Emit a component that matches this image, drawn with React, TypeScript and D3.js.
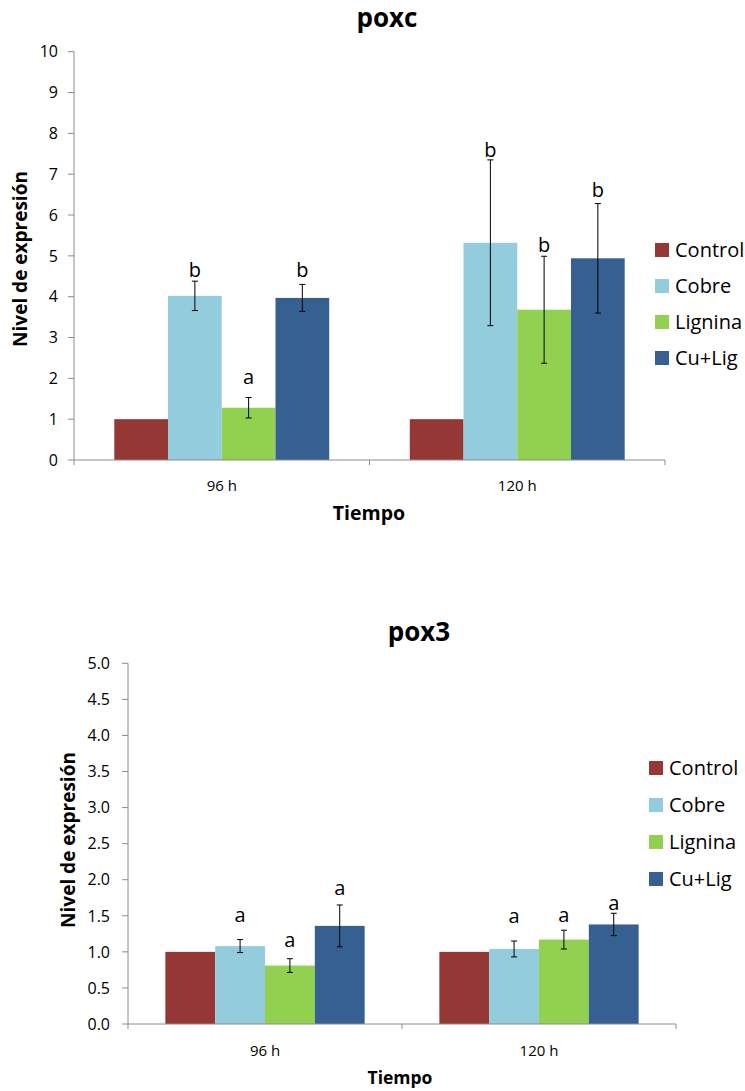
import * as d3 from 'd3'

const categories = ['96 h', '120 h']
const series = ['Control', 'Cobre', 'Lignina', 'Cu+Lig']
const colors = ['#953735', '#93CDDD', '#92D050', '#376092']

// poxc: values per series, [96 h, 120 h]
const poxcValues = [[1, 1], [4.02, 5.32], [1.28, 3.68], [3.97, 4.94]]
const poxcErrors = [[0, 0], [0.36, 2.03], [0.25, 1.31], [0.33, 1.34]]
const poxcLetters = [['', ''], ['b', 'b'], ['a', 'b'], ['b', 'b']]
const poxcLetterAt = [[0, 0], [4.48, 7.43], [1.86, 5.09], [4.48, 6.44]]

// pox3
const pox3Values = [[1, 1], [1.08, 1.04], [0.81, 1.17], [1.36, 1.38]]
const pox3Errors = [[0, 0], [0.09, 0.11], [0.095, 0.13], [0.29, 0.155]]
const pox3Letters = [['', ''], ['a', 'a'], ['a', 'a'], ['a', 'a']]
const pox3LetterAt = [[0, 0], [1.42, 1.4], [1.07, 1.42], [1.79, 1.58]]

const font = "'Open Sans', 'DejaVu Sans', sans-serif"
const axisColor = '#8c8c8c'

const BarChart = ({ g, title, values, errors, letters, letterAt }) => {
  const x = d3.scaleBand().domain(categories).range([g.left, g.right]).paddingInner(0).paddingOuter(0)
  const bandPad = 0.75 / 5.5
  const inner = d3
    .scaleBand()
    .domain(series)
    .range([x.bandwidth() * bandPad, x.bandwidth() * (1 - bandPad)])
  const y = d3.scaleLinear().domain([0, g.yMax]).range([g.bottom, g.top])
  const yTicks = d3.range(0, g.yMax + g.step / 2, g.step)
  const fmt = d3.format(g.fmt)
  const bw = inner.bandwidth()

  return (
    <g>
      <text x={g.titleX} y={g.titleY} textAnchor='middle' fontFamily={font} fontWeight='bold' fontSize={26}>
        {title}
      </text>

      {/* bars */}
      {series.map((s, si) =>
        categories.map((c, ci) => {
          const x0 = x(c) + inner(s)
          return (
            <rect
              key={s + c}
              x={x0}
              y={y(values[si][ci])}
              width={bw}
              height={g.bottom - y(values[si][ci])}
              fill={colors[si]}
            />
          )
        })
      )}

      {/* error bars and letters */}
      {series.map((s, si) =>
        categories.map((c, ci) => {
          const cx = x(c) + inner(s) + bw / 2
          const e = errors[si][ci]
          const v = values[si][ci]
          return (
            <g key={'e' + s + c}>
              {e > 0 && (
                <g stroke='#000' strokeWidth={1}>
                  <line x1={cx} x2={cx} y1={y(v + e)} y2={y(v - e)} />
                  <line x1={cx - 3} x2={cx + 3} y1={y(v + e)} y2={y(v + e)} />
                  <line x1={cx - 3} x2={cx + 3} y1={y(v - e)} y2={y(v - e)} />
                </g>
              )}
              {letters[si][ci] && (
                <text x={cx} y={y(letterAt[si][ci])} textAnchor='middle' fontFamily={font} fontSize={20} fill='#000'>
                  {letters[si][ci]}
                </text>
              )}
            </g>
          )
        })
      )}

      {/* y axis */}
      <line x1={g.left} x2={g.left} y1={g.top} y2={g.bottom} stroke={axisColor} />
      {yTicks.map((t) => (
        <g key={'y' + t}>
          <line x1={g.left - 6} x2={g.left} y1={y(t)} y2={y(t)} stroke={axisColor} />
          <text
            x={g.left - g.labelGap}
            y={y(t)}
            dy='0.36em'
            textAnchor='end'
            fontFamily={font}
            fontSize={16}
            fill='#000'
          >
            {fmt(t)}
          </text>
        </g>
      ))}

      {/* x axis */}
      <line x1={g.left} x2={g.right} y1={g.bottom} y2={g.bottom} stroke={axisColor} />
      {[g.left, x(categories[1]), g.right].map((t, i) => (
        <line key={'xt' + i} x1={t} x2={t} y1={g.bottom} y2={g.bottom + 5} stroke={axisColor} />
      ))}
      {categories.map((c) => (
        <text
          key={'xl' + c}
          x={x(c) + x.bandwidth() / 2}
          y={g.xTickY}
          textAnchor='middle'
          fontFamily={font}
          fontSize={15}
          fill='#000'
        >
          {c}
        </text>
      ))}

      <text x={g.xTitleX} y={g.xTitleY} textAnchor='middle' fontFamily={font} fontWeight='bold' fontSize={g.xTitleSize}>
        Tiempo
      </text>
      <text
        transform={`translate(${g.yTitleX},${g.yTitleY}) rotate(-90)`}
        textAnchor='middle'
        fontFamily={font}
        fontWeight='bold'
        fontSize={19}
      >
        Nivel de expresión
      </text>

      {/* legend */}
      {series.map((s, si) => (
        <g key={'lg' + s} transform={`translate(${g.legendX},${g.legendY + si * g.legendStep})`}>
          <rect x={0} y={-7} width={14} height={14} fill={colors[si]} />
          <text x={20} y={0} dy='0.36em' fontFamily={font} fontSize={20} fill='#000'>
            {s}
          </text>
        </g>
      ))}
    </g>
  )
}

const poxcGeom = {
  left: 74, right: 665, top: 51.7, bottom: 460, yMax: 10, step: 1, fmt: 'd', labelGap: 16,
  titleX: 387, titleY: 27, xTickY: 491, xTitleX: 369, xTitleY: 520, xTitleSize: 19.5,
  yTitleX: 27, yTitleY: 259, legendX: 655, legendY: 250, legendStep: 36
}

const pox3Geom = {
  left: 128, right: 676, top: 663.3, bottom: 1024, yMax: 5, step: 0.5, fmt: '.1f', labelGap: 18,
  titleX: 419, titleY: 641, xTickY: 1056, xTitleX: 400, xTitleY: 1084, xTitleSize: 17.5,
  yTitleX: 75, yTitleY: 840, legendX: 649, legendY: 768, legendStep: 37
}

const App = () => {
  return (
    <svg
      width={745}
      height={1091}
      style={{ position: 'absolute', left: 0, top: 0, background: '#fff' }}
    >
      <rect width={745} height={1091} fill='#fff' />
      <BarChart
        g={poxcGeom}
        title='poxc'
        values={poxcValues}
        errors={poxcErrors}
        letters={poxcLetters}
        letterAt={poxcLetterAt}
      />
      <BarChart
        g={pox3Geom}
        title='pox3'
        values={pox3Values}
        errors={pox3Errors}
        letters={pox3Letters}
        letterAt={pox3LetterAt}
      />
    </svg>
  )
}

export default App
